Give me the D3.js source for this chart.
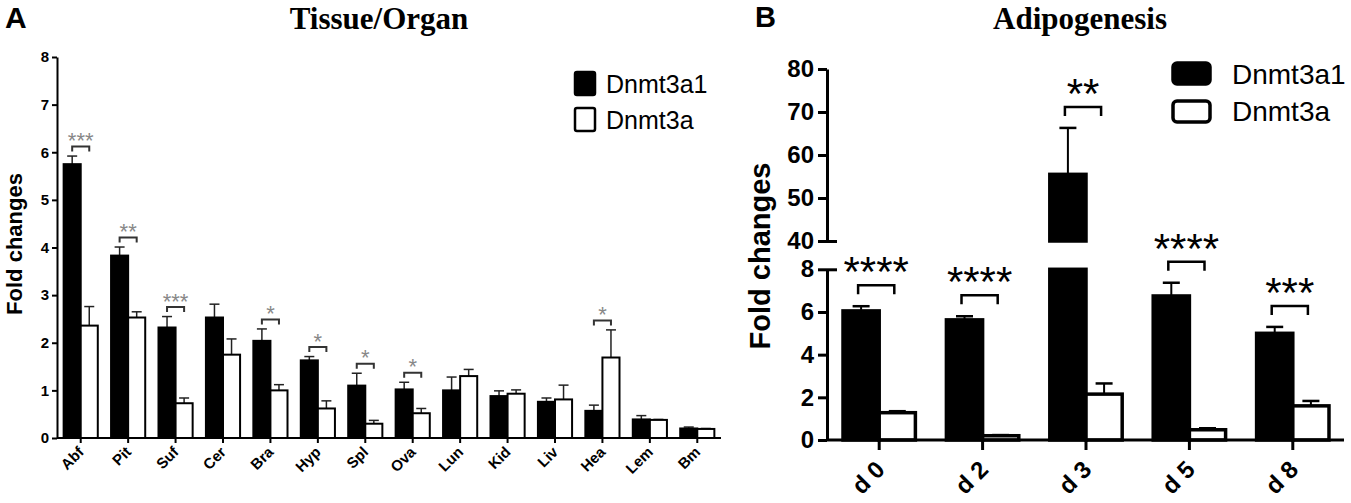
<!DOCTYPE html>
<html>
<head>
<meta charset="utf-8" />
<title>Dnmt3a1 / Dnmt3a fold changes</title>
<style>
  body { margin: 0; background: #fff; }
  svg { display: block; font-family: "Liberation Sans", Arial, sans-serif; }
</style>
</head>
<body>
<svg id="chart" width="1351" height="503"></svg>
<script src="https://d3js.org/d3.v7.min.js"></script>
<script>
const series = ["Dnmt3a1", "Dnmt3a"];

// panel A: tissue / organ
const tissues = ["Abf", "Pit", "Suf", "Cer", "Bra", "Hyp", "Spl", "Ova", "Lun", "Kid", "Liv", "Hea", "Lem", "Bm"];
const tissueA1 = [5.75, 3.83, 2.32, 2.53, 2.04, 1.63, 1.1, 1.02, 1.0, 0.88, 0.76, 0.57, 0.39, 0.2];
const tissueA1Err = [0.17, 0.18, 0.23, 0.28, 0.25, 0.08, 0.26, 0.15, 0.28, 0.11, 0.08, 0.12, 0.08, 0.03];
const tissueA = [2.36, 2.53, 0.73, 1.75, 1.0, 0.62, 0.3, 0.52, 1.3, 0.93, 0.81, 1.69, 0.38, 0.19];
const tissueAErr = [0.4, 0.12, 0.11, 0.33, 0.12, 0.16, 0.07, 0.1, 0.14, 0.08, 0.3, 0.58, 0.01, 0.01];
const tissueSig = ["***", "**", "***", "", "*", "*", "*", "*", "", "", "", "*", "", ""];
const tissueTicks = [0, 1, 2, 3, 4, 5, 6, 7, 8];

// panel B: adipogenesis (broken y axis)
const days = ["d 0", "d 2", "d 3", "d 5", "d 8"];
const dayA1 = [6.05, 5.63, 55.5, 6.75, 5.0];
const dayA1Err = [0.22, 0.17, 10.8, 0.62, 0.3];
const dayA = [1.28, 0.2, 2.15, 0.48, 1.6];
const dayAErr = [0.07, 0.03, 0.5, 0.07, 0.23];
const daySig = ["****", "****", "**", "****", "***"];
const dayTicksLow = [0, 2, 4, 6, 8];
const dayTicksHigh = [40, 50, 60, 70, 80];

const svg = d3.select("#chart");

// ---------- panel A ----------
const gA = svg.append("g");
const xA = d3.scaleBand().domain(tissues).range([57, 721]).paddingInner(0.28).paddingOuter(0.14);
const xASub = d3.scaleBand().domain(series).range([0, xA.bandwidth()]);
const yA = d3.scaleLinear().domain([0, 8]).range([438, 57]);

const rowsA = tissues.map((t, i) => ({
  cat: t,
  vals: [
    { s: series[0], v: tissueA1[i], e: tissueA1Err[i] },
    { s: series[1], v: tissueA[i], e: tissueAErr[i] }
  ],
  sig: tissueSig[i]
}));

const grpA = gA.selectAll("g.cat").data(rowsA).join("g")
  .attr("class", "cat")
  .attr("transform", d => "translate(" + xA(d.cat) + ",0)");

// error bars first (only upward part shows)
grpA.selectAll("g.err").data(d => d.vals).join("g").attr("class", "err")
  .each(function (d) {
    const cx = xASub(d.s) + xASub.bandwidth() / 2;
    const g = d3.select(this);
    g.append("line").attr("x1", cx).attr("x2", cx)
      .attr("y1", yA(d.v)).attr("y2", yA(d.v + d.e))
      .attr("stroke", "#222").attr("stroke-width", 1.5);
    g.append("line").attr("x1", cx - 5).attr("x2", cx + 5)
      .attr("y1", yA(d.v + d.e)).attr("y2", yA(d.v + d.e))
      .attr("stroke", "#222").attr("stroke-width", 1.5);
  });

grpA.selectAll("rect").data(d => d.vals).join("rect")
  .attr("x", d => xASub(d.s))
  .attr("width", xASub.bandwidth())
  .attr("y", d => yA(d.v))
  .attr("height", d => yA(0) - yA(d.v))
  .attr("fill", d => d.s === series[0] ? "#000" : "#fff")
  .attr("stroke", "#000")
  .attr("stroke-width", 2);

// significance brackets
grpA.filter(d => d.sig !== "").each(function (d) {
  const g = d3.select(this);
  const x1 = xASub(series[0]) + xASub.bandwidth() / 2;
  const x2 = xASub(series[1]) + xASub.bandwidth() / 2;
  const top = Math.min(yA(d.vals[0].v + d.vals[0].e), yA(d.vals[1].v + d.vals[1].e));
  const by = top - 9.5;
  g.append("path")
    .attr("d", "M" + x1 + "," + (by + 5) + "V" + by + "H" + x2 + "V" + (by + 5))
    .attr("fill", "none").attr("stroke", "#333").attr("stroke-width", 2);
  g.append("text").attr("x", (x1 + x2) / 2).attr("y", by + 1.5)
    .attr("text-anchor", "middle").attr("font-size", 22).attr("fill", "#888")
    .text(d.sig);
});

const axA = gA.append("g").attr("transform", "translate(57,0)")
  .call(d3.axisLeft(yA).tickValues(tissueTicks).tickSize(5).tickSizeOuter(0).tickPadding(3));
axA.selectAll("path,line").attr("stroke", "#000").attr("stroke-width", 2);
axA.selectAll("text").attr("font-size", 15).attr("font-weight", "bold").attr("fill", "#000")
  .attr("font-family", "Liberation Sans, Arial, sans-serif");

const axAx = gA.append("g").attr("transform", "translate(0,438)")
  .call(d3.axisBottom(xA).tickSize(5).tickSizeOuter(0));
axAx.select("path").attr("d", "M57,0H721");
axAx.selectAll("path,line").attr("stroke", "#000").attr("stroke-width", 2);
axAx.selectAll("text")
  .attr("font-size", 15).attr("font-weight", "bold").attr("fill", "#000")
  .attr("font-family", "Liberation Sans, Arial, sans-serif")
  .attr("text-anchor", "end")
  .attr("y", 0).attr("dy", 0)
  .attr("transform", "translate(4,15) rotate(-45)");

gA.append("text").attr("transform", "translate(22,244) rotate(-90)")
  .attr("text-anchor", "middle").attr("font-size", 22).attr("font-weight", "bold")
  .text("Fold changes");

gA.append("text").attr("x", 379).attr("y", 29).attr("text-anchor", "middle")
  .attr("font-family", "Liberation Serif, Times New Roman, serif")
  .attr("font-size", 31).attr("font-weight", "bold").text("Tissue/Organ");

gA.append("text").attr("x", 5).attr("y", 28).attr("font-size", 30).attr("font-weight", "bold").text("A");

// legend A
const legA = gA.append("g");
series.forEach((s, i) => {
  legA.append("rect").attr("x", 575).attr("y", 72 + i * 36).attr("width", 20).attr("height", 23)
    .attr("rx", 2).attr("fill", i === 0 ? "#000" : "#fff").attr("stroke", "#000").attr("stroke-width", 2.5);
  legA.append("text").attr("x", 606).attr("y", 93 + i * 36).attr("font-size", 25).text(s);
});

// ---------- panel B ----------
const gB = svg.append("g");
const xB = d3.scaleBand().domain(days).range([827.5, 1344.5]).paddingInner(0.3).paddingOuter(0.15);
const xBSub = d3.scaleBand().domain(series).range([0, xB.bandwidth()]);
const yLow = d3.scaleLinear().domain([0, 8]).range([440, 269.3]);
const yHigh = d3.scaleLinear().domain([40, 80]).range([241, 69]);
const yB = v => (v <= 8 ? yLow(v) : v >= 40 ? yHigh(v) : yHigh(40));

const rowsB = days.map((t, i) => ({
  cat: t,
  vals: [
    { s: series[0], v: dayA1[i], e: dayA1Err[i] },
    { s: series[1], v: dayA[i], e: dayAErr[i] }
  ],
  sig: daySig[i]
}));

const grpB = gB.selectAll("g.cat").data(rowsB).join("g")
  .attr("class", "cat")
  .attr("transform", d => "translate(" + xB(d.cat) + ",0)");

grpB.selectAll("g.err").data(d => d.vals).join("g").attr("class", "err")
  .each(function (d) {
    const cx = xBSub(d.s) + xBSub.bandwidth() / 2;
    const g = d3.select(this);
    g.append("line").attr("x1", cx).attr("x2", cx)
      .attr("y1", yB(d.v)).attr("y2", yB(d.v + d.e))
      .attr("stroke", "#000").attr("stroke-width", 2);
    g.append("line").attr("x1", cx - 8.5).attr("x2", cx + 8.5)
      .attr("y1", yB(d.v + d.e)).attr("y2", yB(d.v + d.e))
      .attr("stroke", "#000").attr("stroke-width", 2.5);
  });

grpB.selectAll("g.bar").data(d => d.vals).join("g").attr("class", "bar")
  .each(function (d) {
    const g = d3.select(this);
    const fill = d.s === series[0] ? "#000" : "#fff";
    const low = Math.min(d.v, 8);
    g.append("rect").attr("x", xBSub(d.s)).attr("width", xBSub.bandwidth())
      .attr("y", yLow(low)).attr("height", yLow(0) - yLow(low))
      .attr("fill", fill).attr("stroke", "#000").attr("stroke-width", 3.5);
    if (d.v > 40) {
      g.append("rect").attr("x", xBSub(d.s)).attr("width", xBSub.bandwidth())
        .attr("y", yHigh(d.v)).attr("height", yHigh(40) - yHigh(d.v))
        .attr("fill", fill).attr("stroke", "#000").attr("stroke-width", 3.5);
    }
  });

grpB.filter(d => d.sig !== "").each(function (d) {
  const g = d3.select(this);
  const x1 = xBSub(series[0]) + xBSub.bandwidth() / 2 - 3;
  const x2 = xBSub(series[1]) + xBSub.bandwidth() / 2 - 3;
  const top = Math.min(yB(d.vals[0].v + d.vals[0].e), yB(d.vals[1].v + d.vals[1].e));
  const by = top - 21;
  g.append("path")
    .attr("d", "M" + x1 + "," + (by + 9) + "V" + by + "H" + x2 + "V" + (by + 9))
    .attr("fill", "none").attr("stroke", "#000").attr("stroke-width", 2.5);
  g.append("text").attr("x", (x1 + x2) / 2).attr("y", by + 1)
    .attr("text-anchor", "middle").attr("font-size", 42).attr("fill", "#000")
    .text(d.sig);
});

function styleAxisB(ax) {
  ax.selectAll("path,line").attr("stroke", "#000").attr("stroke-width", 3);
  ax.selectAll("text").attr("font-size", 24).attr("font-weight", "bold").attr("fill", "#000")
    .attr("font-family", "Liberation Sans, Arial, sans-serif");
}

const axLow = gB.append("g").attr("transform", "translate(827,0)")
  .call(d3.axisLeft(yLow).tickValues(dayTicksLow).tickSize(9).tickSizeOuter(0).tickPadding(4));
styleAxisB(axLow);
const axHigh = gB.append("g").attr("transform", "translate(827,0)")
  .call(d3.axisLeft(yHigh).tickValues(dayTicksHigh).tickSize(9).tickSizeOuter(0).tickPadding(4));
styleAxisB(axHigh);
// break marks: the 8 and 40 ticks run across the axis
[[axLow, 8], [axHigh, 40]].forEach(([ax, v]) => {
  ax.selectAll(".tick").filter(t => t === v).select("line").attr("x2", 10).attr("x1", -9);
});

const axBx = gB.append("g").attr("transform", "translate(0,440)")
  .call(d3.axisBottom(xB).tickSize(10).tickSizeOuter(0));
axBx.select("path").attr("d", "M827,0H1344");
styleAxisB(axBx);
axBx.selectAll("text")
  .attr("text-anchor", "end")
  .attr("y", 0).attr("dy", 0)
  .attr("transform", "translate(7,31) rotate(-45)");

gB.append("text").attr("transform", "translate(770,256) rotate(-90)")
  .attr("text-anchor", "middle").attr("font-size", 29).attr("font-weight", "bold")
  .text("Fold changes");

gB.append("text").attr("x", 1080).attr("y", 29).attr("text-anchor", "middle")
  .attr("font-family", "Liberation Serif, Times New Roman, serif")
  .attr("font-size", 31).attr("font-weight", "bold").text("Adipogenesis");

gB.append("text").attr("x", 755).attr("y", 27).attr("font-size", 29).attr("font-weight", "bold").text("B");

const legB = gB.append("g");
series.forEach((s, i) => {
  legB.append("rect").attr("x", 1173).attr("y", 63 + i * 38).attr("width", 37).attr("height", 21)
    .attr("rx", 4).attr("fill", i === 0 ? "#000" : "#fff").attr("stroke", "#000").attr("stroke-width", 3.5);
  legB.append("text").attr("x", 1232).attr("y", 84 + i * 37).attr("font-size", 28).text(s);
});
</script>
</body>
</html>
